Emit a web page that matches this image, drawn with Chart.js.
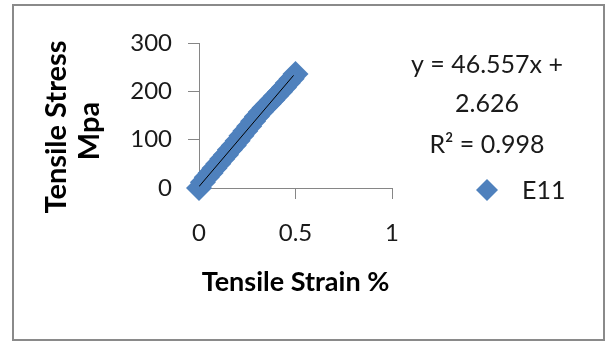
<!DOCTYPE html>
<html>
<head>
<meta charset="utf-8">
<script src="https://cdn.jsdelivr.net/npm/chart.js@4"></script>
<style>
	html, body { margin: 0; padding: 0; background: #fff; }
	#wrap { position: relative; width: 606px; height: 343px; }
	#frame { position: absolute; left: 12px; top: 4px; width: 589px; height: 333px; border: 2px solid #8a8a8a; }
	#myChart { position: absolute; left: 0; top: 0; }
</style>
</head>
<body>
<div id="wrap">
	<div id="frame"></div>
	<canvas id="myChart" width="606" height="343"></canvas>
</div>
<script>
var strain = [0, 0.02, 0.04, 0.06, 0.08, 0.10, 0.12, 0.14, 0.16, 0.18, 0.20, 0.22, 0.24,
	0.26, 0.28, 0.30, 0.32, 0.34, 0.36, 0.38, 0.40, 0.42, 0.44, 0.46, 0.48, 0.50];
var stress = [0, 12, 22, 31, 41, 50, 60, 69, 79, 88, 98, 108, 118,
	128, 138, 148, 157, 166, 174, 182, 191, 199, 208, 217, 226, 236];
var trendX = [0, 0.49];
var trendY = [3, 233];
var seriesName = "E11";
var xTitle = "Tensile Strain %";
var yTitle = ["Tensile Stress", "Mpa"];
var equation = ["y = 46.557x +", "2.626", "R\u00B2 = 0.998"];

var blue = "#4f81bd";
var axisGray = "#868686";

var points = strain.map(function(x, i) { return {x: x, y: stress[i]}; });
var trend = trendX.map(function(x, i) { return {x: x, y: trendY[i]}; });

// y title, equation and legend drawn on the canvas
var extras = {
	id: "extras",
	afterDraw: function(chart) {
		var ctx = chart.ctx;
		ctx.save();
		ctx.fillStyle = "#000";
		ctx.font = "bold 29px Lato";
		ctx.textAlign = "center";
		ctx.textBaseline = "middle";
		ctx.translate(57, 127);
		ctx.rotate(-Math.PI / 2);
		ctx.fillText(yTitle[0], 0, 0);
		ctx.fillText(yTitle[1], -4, 33);
		ctx.restore();

		ctx.save();
		ctx.fillStyle = "#1a1a1a";
		ctx.font = "25px Lato";
		ctx.textAlign = "center";
		ctx.textBaseline = "middle";
		ctx.fillText(equation[0], 487, 65);
		ctx.fillText(equation[1], 487, 104);
		ctx.fillText(equation[2], 487, 145);

		// legend
		ctx.fillStyle = blue;
		ctx.beginPath();
		ctx.moveTo(487, 179);
		ctx.lineTo(498, 190);
		ctx.lineTo(487, 201);
		ctx.lineTo(476, 190);
		ctx.closePath();
		ctx.fill();
		ctx.fillStyle = "#1a1a1a";
		ctx.textAlign = "left";
		ctx.fillText(seriesName, 522, 191);
		ctx.restore();
	}
};

new Chart("myChart", {
	type: "scatter",
	data: {
		datasets: [{
			label: "trend",
			data: trend,
			showLine: true,
			borderColor: "#000",
			borderWidth: 1,
			pointRadius: 0,
			order: 0
		}, {
			label: seriesName,
			data: points,
			pointStyle: "rectRot",
			pointRadius: 13,
			backgroundColor: blue,
			borderColor: blue,
			borderWidth: 0,
			clip: false,
			order: 1
		}]
	},
	options: {
		responsive: false,
		animation: false,
		layout: { padding: { left: 0, top: 43, right: 214, bottom: 0 } },
		plugins: {
			legend: { display: false },
			tooltip: { enabled: false }
		},
		scales: {
			x: {
				type: "linear",
				min: 0,
				max: 1,
				afterFit: function(scale) { scale.height = 155; },
				ticks: {
					stepSize: 0.5,
					padding: 20,
					color: "#1a1a1a",
					font: { family: "Lato", size: 24 },
					callback: function(v) { return String(v); }
				},
				grid: { drawOnChartArea: false, drawTicks: true, tickLength: 11, tickColor: axisGray },
				border: { display: true, color: axisGray, width: 1 },
				title: {
					display: true,
					text: xTitle,
					color: "#000",
					font: { family: "Lato", size: 27, weight: "bold" },
					padding: { top: 0, bottom: 45 }
				}
			},
			y: {
				min: 0,
				max: 300,
				afterFit: function(scale) { scale.width = 199; },
				ticks: {
					stepSize: 100,
					padding: 16,
					color: "#1a1a1a",
					font: { family: "Lato", size: 24 }
				},
				grid: { drawOnChartArea: false, drawTicks: true, tickLength: 11, tickColor: axisGray },
				border: { display: true, color: axisGray, width: 1 }
			}
		}
	},
	plugins: [extras]
});
</script>
</body>
</html>
